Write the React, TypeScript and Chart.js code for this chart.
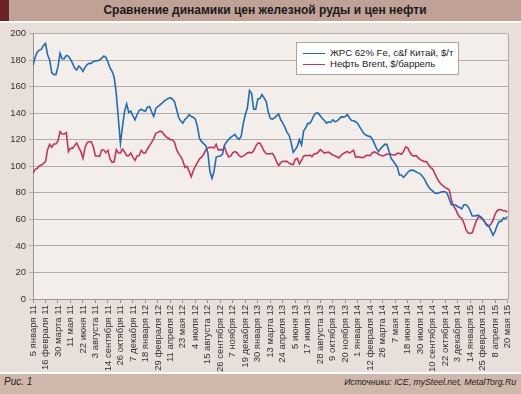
import React, { useEffect, useRef } from "react";
import Chart from "chart.js/auto";

const TITLE = "Сравнение динамики цен железной руды и цен нефти";
const FIG_LABEL = "Рис. 1";
const SOURCES = "Источники: ICE, mySteel.net, MetalTorg.Ru";
const SERIES_NAMES = ["ЖРС 62% Fe, c&f Китай, $/т", "Нефть Brent, $/баррель"];

// one tick label every 6 weekly points
const WEEKS_PER_TICK = 6;
const tickLabels = [
  "5 января 11", "16 февраля 11", "30 марта 11", "11 мая 11", "22 июня 11",
  "3 августа 11", "14 сентября 11", "26 октября 11", "7 декабря 11", "18 января 12",
  "29 февраля 12", "11 апреля 12", "23 мая 12", "4 июля 12", "15 августа 12",
  "26 сентября 12", "7 ноября 12", "19 декабря 12", "30 января 13", "13 марта 13",
  "24 апреля 13", "5 июня 13", "17 июля 13", "28 августа 13", "9 октября 13",
  "20 ноября 13", "1 января 14", "12 февраля 14", "26 марта 14", "7 мая 14",
  "18 июня 14", "30 июля 14", "10 сентября 14", "22 октября 14", "3 декабря 14",
  "14 января 15", "25 февраля 15", "8 апреля 15", "20 мая 15",
];

const yTicks = [0, 20, 40, 60, 80, 100, 120, 140, 160, 180, 200];

// weekly values
const ironOre = [
  176, 182, 186, 187.5, 188, 191, 192.6, 184, 180, 170.5,
  169, 169, 175, 185, 181, 181, 183.5, 183, 180.5, 177.5,
  174, 172.5, 175.5, 174, 171.5, 174.5, 176.5, 177.5, 177.5, 179,
  179.4, 179.5, 180, 181.5, 183, 182, 178.5, 174, 171.5, 167,
  155, 136, 117.3, 130, 141.5, 147, 140.5, 141.5, 138, 135,
  139, 142, 143, 142, 141.5, 144.5, 145, 141, 137.5, 143.5,
  145, 146.2, 147.5, 149, 150.2, 151, 151.6, 150.5, 148.5, 142.7,
  136.5, 134, 132.5, 135.3, 136.5, 139, 137.5, 137, 135.5, 129.8,
  121, 118.5, 117, 115.5, 110, 96, 90.9, 96.5, 106.8, 107.5,
  107.5, 109, 116, 118.3, 120.3, 121.8, 122.9, 124, 121.5, 120.3,
  122.5, 132, 138.8, 144, 157, 155, 142.9, 142.9, 150.7, 151,
  154, 151.5, 149, 141, 136, 135.5, 136.5, 138, 139.5, 135,
  132.5, 129.5, 125.5, 123.5, 118, 110.5, 112.5, 115.2, 120, 116,
  126.5, 128.9, 132.3, 132.3, 135, 138.5, 140, 140, 138, 136,
  134.5, 132.5, 133.5, 133, 135, 133.5, 134, 135.5, 137.2, 137,
  137.5, 139, 136.5, 134.5, 134.3, 133.5, 132.2, 129.5, 127, 124.5,
  123.5, 122.7, 122.4, 120.5, 117, 113.5, 111, 113.3, 115, 116.5,
  116.5, 111.5, 106, 104, 101.7, 99.5, 93.5, 93.4, 91.6, 93.4,
  95.3, 96.8, 97.1, 96.8, 95.8, 95, 94.3, 92.5, 90.5, 87.3,
  84.6, 82.5, 81.4, 79.8, 79.5, 80.1, 80.6, 80.8, 80.8, 79.5,
  75.2, 71, 71, 70.8, 69.7, 68.9, 67.9, 71, 71, 69.5,
  66.5, 62.5, 62.5, 62.8, 63.2, 61.5, 60, 58, 56.2, 55,
  51.5, 48, 51, 55.5, 58.5, 58.4, 61, 60.5, 62.2,
];

const brent = [
  94.7, 97.7, 98.4, 100.1, 100.9, 102, 103.5, 112.5, 116.5, 114.3,
  116.8, 116.8, 119, 126, 124.3, 124.3, 125.3, 111, 113.5, 113.5,
  115.5, 117.5, 114, 111, 106, 114, 117.8, 118.5, 118.5, 114.7,
  107.7, 107.7, 107.4, 112.2, 112.2, 110.2, 112, 105.5, 103, 103.4,
  112.5, 110, 110, 112.8, 110.8, 108, 108, 110, 106.7, 104.4,
  107.7, 108, 112, 110, 110, 113, 115.5, 118, 120.8, 124.8,
  125.5, 126.4, 126, 123.8, 122.1, 121.1, 120, 120, 118, 112.5,
  109.3, 107.3, 104, 99.2, 100, 96.3, 92, 96.6, 100, 102.7,
  105.6, 106.8, 109, 112.2, 113.8, 114.2, 114.2, 113.8, 116.5, 112.3,
  112.5, 112.3, 114.7, 110, 107, 107.8, 110.2, 111, 110.2, 108,
  107, 107.6, 108.8, 110.1, 110.4, 110, 111.7, 115, 117.3, 117.5,
  114.8, 111.5, 109.6, 109.3, 109.4, 109.7, 107.3, 103.5, 100.5, 102.7,
  103.8, 103.7, 103.8, 102.4, 101.6, 101.2, 105.2, 106, 101.8, 104.5,
  107.6, 108.2, 107.9, 108.4, 107.3, 109.3, 109.5, 110.5, 112.6, 111.2,
  109.9, 110.3, 110.7, 109.6, 108.5, 107.9, 107.1, 106.3, 108.2, 109.5,
  110.4, 111.2, 109.9, 111, 112, 106.8, 107.1, 106.9, 106.5, 106.7,
  108.1, 108.3, 108, 110.2, 110.8, 110.2, 108.9, 108.3, 107.8, 108.3,
  109.2, 109, 109, 108.5, 108.5, 109.8, 109.7, 109, 111, 114.5,
  114, 110.7, 108.3, 107.7, 108.2, 106.5, 105, 104.3, 103.5, 103.5,
  101.2, 99, 97.9, 94.7, 91.4, 88.4, 86.6, 85.3, 83.9, 83.3,
  82, 74.5, 70.1, 67.8, 64, 61.7, 60.7, 57.3, 52.3, 49.8,
  49.4, 49.8, 54.6, 59, 61.8, 62, 60.6, 58, 55.3, 54.8,
  56.4, 59.2, 64, 66.5, 67.3, 67.2, 66.5, 66.5, 65.2,
];

const BLUE = "#1f6db4";
const RED = "#c8325e";
const FONT = "'Liberation Sans', Arial, Helvetica, sans-serif";

export default function App() {
  const canvasRef = useRef<HTMLCanvasElement | null>(null);

  useEffect(() => {
    document.body.style.margin = "0";
    const canvas = canvasRef.current;
    if (!canvas) return;

    const plotFrame = {
      id: "plotFrame",
      beforeDraw(chart: any) {
        const { ctx, chartArea: a } = chart;
        ctx.save();
        ctx.fillStyle = "#f4eeeb";
        ctx.fillRect(a.left, a.top, a.right - a.left, a.bottom - a.top);
        ctx.restore();
      },
      afterDatasetsDraw(chart: any) {
        const { ctx, chartArea: a } = chart;
        ctx.save();
        ctx.strokeStyle = "#b3adaa";
        ctx.lineWidth = 1;
        ctx.beginPath();
        const x = Math.round(a.right) + 0.5;
        ctx.moveTo(x, a.top);
        ctx.lineTo(x, a.bottom);
        ctx.stroke();
        ctx.restore();
      },
    };

    const lastIndex = (tickLabels.length - 1) * WEEKS_PER_TICK;

    const chart = new Chart(canvas, {
      type: "line",
      data: {
        datasets: [
          {
            label: SERIES_NAMES[0],
            data: ironOre.map((v, i) => ({ x: i, y: v })),
            borderColor: BLUE,
            backgroundColor: BLUE,
            borderWidth: 1.6,
            pointRadius: 0,
            tension: 0,
          },
          {
            label: SERIES_NAMES[1],
            data: brent.map((v, i) => ({ x: i, y: v })),
            borderColor: RED,
            backgroundColor: RED,
            borderWidth: 1.6,
            pointRadius: 0,
            tension: 0,
          },
        ],
      },
      options: {
        responsive: false,
        animation: false,
        events: [],
        layout: { padding: { top: 33.5, right: 8, left: 0, bottom: 0 } },
        plugins: { legend: { display: false }, tooltip: { enabled: false }, title: { display: false } },
        scales: {
          x: {
            type: "linear",
            min: 0,
            max: lastIndex,
            afterFit(s: any) {
              s.height = 95;
            },
            afterBuildTicks(s: any) {
              s.ticks = tickLabels.map((_, k) => ({ value: k * WEEKS_PER_TICK }));
            },
            ticks: {
              autoSkip: false,
              minRotation: 90,
              maxRotation: 90,
              padding: 2,
              color: "#333",
              font: { family: FONT, size: 9.5 },
              callback: (v: any) => tickLabels[Math.round(Number(v) / WEEKS_PER_TICK)],
            },
            grid: { drawOnChartArea: false, drawTicks: true, tickLength: 4, color: "#9c9794" },
            border: { display: true, color: "#9c9794" },
          },
          y: {
            min: 0,
            max: 200,
            afterFit(s: any) {
              s.width = 33;
            },
            afterBuildTicks(s: any) {
              s.ticks = yTicks.map((v) => ({ value: v }));
            },
            ticks: {
              padding: 3,
              color: "#333",
              font: { family: FONT, size: 9.5 },
            },
            grid: { color: "#b3adaa", tickLength: 4, drawTicks: true },
            border: { display: true, color: "#9c9794" },
          },
        },
      },
      plugins: [plotFrame],
    });

    return () => chart.destroy();
  }, []);

  return (
    <div style={{ position: "absolute", left: 0, top: 0, width: 521, height: 394, background: "#fff", fontFamily: FONT, overflow: "hidden" }}>
      {/* title bar */}
      <div style={{ position: "absolute", left: 0, top: 0, width: 521, height: 21, background: "#bfa195" }} />
      <div style={{ position: "absolute", left: 0, top: 0, width: 9, height: 21, background: "#6e2128" }} />
      <div style={{ position: "absolute", left: 9, top: 0, width: 512, height: 21, lineHeight: "21px", textAlign: "center", fontWeight: "bold", fontSize: 12, color: "#1a1a1a" }}>
        {TITLE}
      </div>
      {/* chart panel */}
      <div style={{ position: "absolute", left: 0, top: 23, width: 521, height: 349, background: "#e8dfdb" }} />
      {/* footer */}
      <div style={{ position: "absolute", left: 0, top: 374, width: 521, height: 20, background: "#d0b7ac" }} />
      <div style={{ position: "absolute", left: 4, top: 374, height: 16, lineHeight: "16px", fontStyle: "italic", fontSize: 10, color: "#222" }}>
        {FIG_LABEL}
      </div>
      <div style={{ position: "absolute", right: 5, top: 374, height: 16, lineHeight: "16px", fontStyle: "italic", fontSize: 8.7, color: "#222" }}>
        {SOURCES}
      </div>
      <canvas ref={canvasRef} width={521} height={394} style={{ position: "absolute", left: 0, top: 0, width: 521, height: 394 }} />
      {/* legend */}
      <div style={{ position: "absolute", left: 296, top: 42, width: 161, height: 31, background: "#fff", border: "1px solid #a9a4a1", fontSize: 9.6, color: "#222" }}>
        {SERIES_NAMES.map((name, k) => (
          <div key={name} style={{ position: "absolute", left: 6, top: 4 + k * 11, height: 11, lineHeight: "11px", whiteSpace: "nowrap" }}>
            <span style={{ display: "inline-block", width: 22, height: 0, borderTop: `1.6px solid ${k === 0 ? BLUE : RED}`, verticalAlign: "middle", marginRight: 5 }} />
            {name}
          </div>
        ))}
      </div>
    </div>
  );
}
